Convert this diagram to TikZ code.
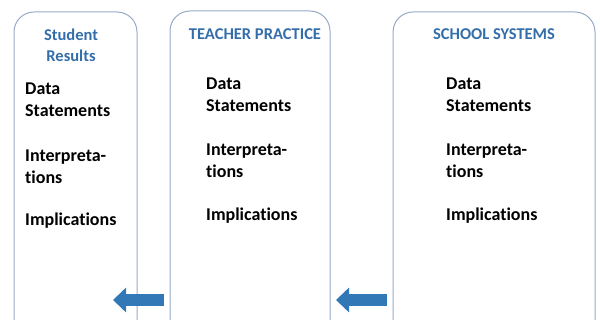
\documentclass[tikz,border=0pt]{standalone}
\usepackage{fontspec}
\setmainfont{Carlito}[Ligatures=NoCommon]
\usetikzlibrary{positioning,arrows.meta}
\definecolor{boxline}{RGB}{150,170,200}
\definecolor{headblue}{RGB}{52,110,170}
\definecolor{arrowblue}{RGB}{50,120,182}

\begin{document}
\begin{tikzpicture}[x=1pt,y=-1pt,
	head/.style={font=\bfseries\fontsize{16.5}{21}\selectfont,text=headblue,align=center,inner sep=0pt},
	item/.style={font=\bfseries\fontsize{18}{22}\selectfont,align=left,anchor=west,inner sep=0pt},
	panel/.style={draw=boxline,line width=1pt,rounded corners=20pt},
	back/.style={draw=arrowblue,line width=12pt,-{Triangle[length=13pt,width=24pt]}}]
	\useasboundingbox (0,0) rectangle (600,320);
	\clip (0,0) rectangle (600,320);
	% the three columns, open at the bottom
	\draw[panel] (14,12) rectangle (137,380);
	\draw[panel] (170,11) rectangle (330,380);
	\draw[panel] (393,12) rectangle (595,380);
	% headings
	\node[head] (results) at (71,45) {Student\\Results};
	\node[head] (practice) at (255,34) {TEACHER PRACTICE};
	\node[head] (systems) at (494,34) {SCHOOL SYSTEMS};
	% left column
	\node[item] (rdata) at (25,100) {Data\\Statements};
	\node[item] (rinterp) at (25,167) {Interpreta-\\tions};
	\node[item] (rimpl) at (25,221) {Implications};
	% middle column
	\node[item] (pdata) at (206,95) {Data\\Statements};
	\node[item] (pinterp) at (206,161) {Interpreta-\\tions};
	\node[item] (pimpl) at (206,216) {Implications};
	% right column
	\node[item] (sdata) at (446,95) {Data\\Statements};
	\node[item] (sinterp) at (446,161) {Interpreta-\\tions};
	\node[item] (simpl) at (446,216) {Implications};
	% arrows back to the left
	\coordinate (ptail) at (164,300);
	\coordinate (ptip) at (113,300);
	\coordinate (stail) at (387,300);
	\coordinate (stip) at (336,300);
	\draw[back] (ptail) -- (ptip);
	\draw[back] (stail) -- (stip);
\end{tikzpicture}
\end{document}
